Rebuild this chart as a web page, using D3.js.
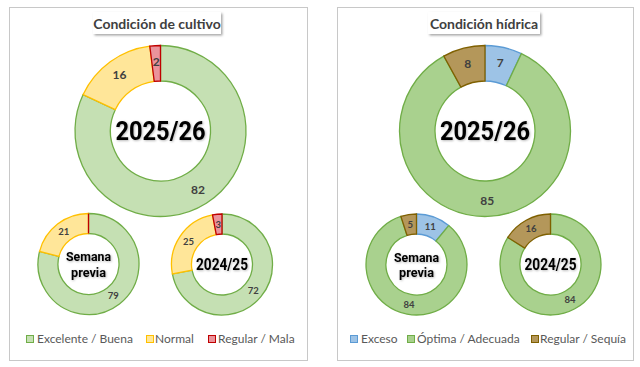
<!DOCTYPE html>
<html><head><meta charset="utf-8">
<script src="https://cdn.jsdelivr.net/npm/d3@7/dist/d3.min.js"></script>
<style>
body{margin:0;background:#fff;}
svg{display:block;}
</style></head>
<body>
<svg id="c" width="640" height="367"></svg>
<script>
// ---- data ----
const cropCategories = ["Excelente / Buena", "Normal", "Regular / Mala"];
const crop2025 = [82, 16, 2];
const cropPrev = [79, 21, 0];
const crop2024 = [72, 25, 3];

const waterCategories = ["Exceso", "Óptima / Adecuada", "Regular / Sequía"];
const water2025 = [7, 85, 8];
const waterPrev = [11, 84, 5];
const water2024 = [0, 84, 16];

const periodLabels = ["2025/26", "Semana previa", "2024/25"];
const panelTitles = ["Condición de cultivo", "Condición hídrica"];

// ---- styles ----
const cropFill = ["#c5e0b3", "#ffe699", "#ea939b"];
const cropStroke = ["#70ad47", "#ffc000", "#c00000"];
const waterFill = ["#9dc3e6", "#a9d18e", "#b4975a"];
const waterStroke = ["#5b9bd5", "#70ad47", "#7f6000"];

const svg = d3.select("#c");
const defs = svg.append("defs");
const f = defs.append("filter").attr("id","sh").attr("x","-10%").attr("y","-20%").attr("width","130%").attr("height","160%");
f.append("feDropShadow").attr("dx",1.5).attr("dy",1.5).attr("stdDeviation",1).attr("flood-color","#000").attr("flood-opacity",0.35);
const g2 = defs.append("filter").attr("id","glow").attr("x","-20%").attr("y","-30%").attr("width","140%").attr("height","160%");
g2.append("feDropShadow").attr("dx",0.8).attr("dy",0.8).attr("stdDeviation",0.8).attr("flood-color","#000").attr("flood-opacity",0.3);

const panels = [
  {x0:9, x1:307, title:panelTitles[0], tb:[93,221], cats:cropCategories, fill:cropFill, stroke:cropStroke,
   donuts:[{d:crop2025, cx:160.5, cy:131, R:85.5, r:50, lab:periodLabels[0], big:true},
           {d:cropPrev, cx:88.5, cy:264, R:50.5, r:30.5, lab:periodLabels[1]},
           {d:crop2024, cx:222, cy:264.5, R:50.5, r:30.5, lab:periodLabels[2]}],
   legend:[[26,37],[146,155],[208,218]]},
  {x0:337, x1:633, title:panelTitles[1], tb:[428,540], cats:waterCategories, fill:waterFill, stroke:waterStroke,
   donuts:[{d:water2025, cx:485, cy:131, R:85.5, r:50, lab:periodLabels[0], big:true},
           {d:waterPrev, cx:416.5, cy:264.5, R:50.5, r:30.5, lab:periodLabels[1]},
           {d:water2024, cx:550.5, cy:264.5, R:50.5, r:30.5, lab:periodLabels[2]}],
   legend:[[350,361],[407,417],[531,540]]}
];

const pie = d3.pie().sort(null).value(d => d);
const labelWidths = {"2025/26":90, "2024/25":52, "Semana":45, "previa":35};

panels.forEach(p => {
  const g = svg.append("g");
  g.append("rect").attr("x",p.x0+0.5).attr("y",7.5).attr("width",p.x1-p.x0).attr("height",353)
    .attr("fill","#fff").attr("stroke","#c8c8c8").attr("stroke-width",1);
  // title
  g.append("rect").attr("x",p.tb[0]).attr("y",12).attr("width",p.tb[1]-p.tb[0]).attr("height",22)
    .attr("fill","#fff").attr("filter","url(#sh)");
  g.append("text").attr("x",(p.tb[0]+p.tb[1])/2).attr("y",28.5).attr("text-anchor","middle")
    .attr("font-family","Lato, 'Open Sans', sans-serif").attr("font-weight","bold").attr("font-size",14)
    .attr("fill","#404040").text(p.title);

  p.donuts.forEach(dn => {
    const dg = g.append("g").attr("transform",`translate(${dn.cx},${dn.cy})`);
    const arc = d3.arc().innerRadius(dn.r).outerRadius(dn.R);
    const arcs = pie(dn.d);
    dg.selectAll("path").data(arcs).join("path")
      .attr("d",arc)
      .attr("fill",(d,i)=>p.fill[i])
      .attr("stroke",(d,i)=>p.stroke[i])
      .attr("stroke-width",1.3)
      .attr("stroke-linejoin","miter");
    const mid = (dn.r+dn.R)/2 + (dn.big?2:0);
    const larc = d3.arc().innerRadius(mid).outerRadius(mid);
    dg.selectAll("text.v").data(arcs.filter(a=>a.data>0)).join("text")
      .attr("class","v")
      .attr("transform",d=>`translate(${larc.centroid(d)})`)
      .attr("text-anchor","middle").attr("dy","0.36em")
      .attr("font-family","Lato, sans-serif").attr("font-weight","bold")
      .attr("font-size",dn.big?12:9.5).attr("fill","#404040")
      .text(d=>d.data);
    // center label
    const lines = dn.lab.split(" ");
    const fs = dn.big?25:(lines.length===1?16:13);
    const ys = lines.length===1 ? [0] : [-7.5, 8];
    lines.forEach((ln,k) => {
      dg.append("text").attr("text-anchor","middle")
        .attr("x",0).attr("y",ys[k]).attr("dy","0.36em")
        .attr("font-family","Roboto, sans-serif").attr("font-weight","bold")
        .attr("font-size",fs).attr("fill","#000").attr("filter","url(#glow)")
        .attr("textLength",labelWidths[ln]).attr("lengthAdjust","spacingAndGlyphs")
        .text(ln);
    });
  });

  // legend
  p.cats.forEach((c,i) => {
    g.append("rect").attr("x",p.legend[i][0]+0.5).attr("y",335.5).attr("width",7).attr("height",7)
      .attr("fill",p.fill[i]).attr("stroke",p.stroke[i]).attr("stroke-width",1);
    g.append("text").attr("x",p.legend[i][1]).attr("y",343)
      .attr("font-family","Lato, sans-serif").attr("font-size",12).attr("fill","#595959").text(c);
  });
});
</script>
</body></html>
